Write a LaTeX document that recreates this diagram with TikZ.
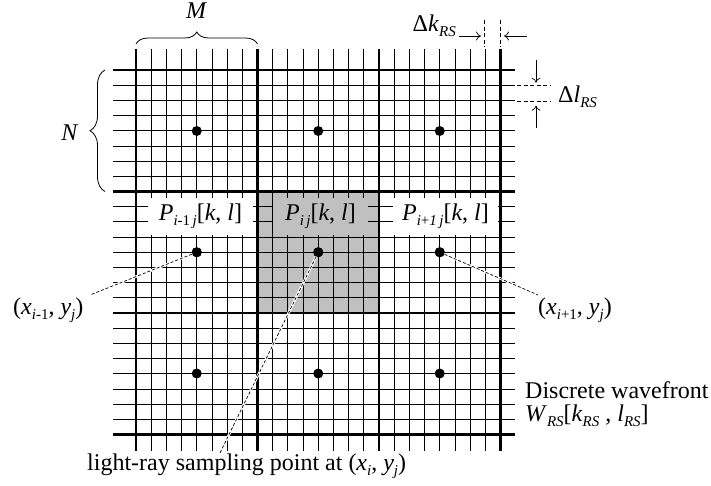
\documentclass[tikz,border=0pt]{standalone}
\usepackage{fontspec}
\setmainfont{Liberation Serif}
\usetikzlibrary{decorations.pathreplacing,arrows.meta}
\definecolor{cellgray}{RGB}{192,192,192}
\newcommand{\lowix}[1]{\raisebox{-5pt}{\fontsize{15}{15}\selectfont #1}}
\begin{document}
\begin{tikzpicture}[x=1pt,y=-1pt,
  thingrid/.style={line width=0.8pt},
  thickgrid/.style={line width=2.6pt},
  txt/.style={font=\fontsize{24}{28}\selectfont, inner sep=0pt},
  lbl/.style={txt, minimum height=37pt, minimum width=105pt},
  dotnode/.style={circle, fill=black, minimum size=10pt, inner sep=0pt},
  halo/.style={draw=white, line width=2.5pt},
  lead/.style={line width=0.7pt, dash pattern=on 3pt off 2pt},
  dimdash/.style={line width=0.7pt, dash pattern=on 4pt off 2.5pt},
  dimarrow/.style={line width=0.7pt, -{To[length=5pt,width=9pt]}},
  bracestyle/.style={line width=0.8pt, decorate}
]
\useasboundingbox (0,0) rectangle (711,486);
% shaded cell
\fill[cellgray] (257.5,191.5) rectangle (379,313);
% grid
\foreach \k in {0,...,24} {
  \draw[thingrid] ({136+\k*15.1875},49) -- ({136+\k*15.1875},451);
  \draw[thingrid] (113,{70+\k*15.1875}) -- (515,{70+\k*15.1875});
}
\foreach \k in {0,...,3} {
  \draw[thickgrid] ({136+\k*121.5},49) -- ({136+\k*121.5},451);
  \draw[thickgrid] (113,{70+\k*121.5}) -- (515,{70+\k*121.5});
}
% cell labels
\node[lbl, fill=white] (pl) at (200.5,216.5) {\textit{P}\lowix{\textit{i}-1\,\textit{j}}[\textit{k}, \textit{l}]};
\node[lbl, fill=cellgray, minimum width=95pt] (pc) at (320.5,216.5) {\textit{P}\lowix{\textit{i\,j}}[\textit{k}, \textit{l}]};
\node[lbl, fill=white] (pr) at (445.5,216.5) {\textit{P}\lowix{\textit{i}+\textit{1\,j}}[\textit{k}, \textit{l}]};
% dots
\foreach \r/\y in {1/131,2/252.25,3/373.5} {
  \foreach \c/\x in {1/196.75,2/318.25,3/439.75} {
    \node[dotnode] (d\r\c) at (\x,\y) {};
  }
}
% leader lines
\coordinate (eL) at (90,295);
\coordinate (eR) at (538,295);
\coordinate (eC) at (220,453);
\draw[halo] (d21.center) -- (eL);
\draw[halo] (d23.center) -- (eR);
\draw[halo] (d22.center) -- (eC);
\draw[lead] (d21) -- (eL);
\draw[lead] (d23) -- (eR);
\draw[lead] (d22) -- (eC);
\node[dotnode] at (d21) {};
\node[dotnode] at (d22) {};
\node[dotnode] at (d23) {};
% point labels
\node[txt, anchor=base west] (xl) at (13,314) {(\textit{x}\lowix{\textit{i}-1}, \textit{y}\lowix{\textit{j}})};
\node[txt, anchor=base west] (xr) at (538,314) {(\textit{x}\lowix{\textit{i}+1}, \textit{y}\lowix{\textit{j}})};
\node[txt, anchor=base west] (lr) at (87,470) {light-ray sampling point at (\textit{x}\lowix{\textit{i}}, \textit{y}\lowix{\textit{j}})};
\node[txt, anchor=base west] (dw) at (525,398) {Discrete wavefront};
\node[txt, anchor=base west] (wr) at (525,421.7) {\textit{W}\lowix{\textit{RS}}[\textit{k}\lowix{\textit{RS}} , \textit{l}\lowix{\textit{RS}}]};
% M brace
\coordinate (mA) at (136,44);
\coordinate (mB) at (257.5,44);
\draw[bracestyle, decoration={brace, amplitude=12pt}] (mA) -- (mB);
\node[txt, anchor=base] (M) at (196.75,19) {\textit{M}};
% N brace
\coordinate (nA) at (105,191.5);
\coordinate (nB) at (105,70);
\draw[bracestyle, decoration={brace, amplitude=15pt}] (nA) -- (nB);
\node[txt, anchor=base] (N) at (70,141) {\textit{N}};
% Delta k
\coordinate (k1t) at (484.3,20.5);
\coordinate (k1b) at (484.3,47);
\coordinate (k2t) at (500.5,20.5);
\coordinate (k2b) at (500.5,47);
\draw[dimdash] (k1t) -- (k1b);
\draw[dimdash] (k2t) -- (k2b);
\coordinate (ka1) at (459,36);
\coordinate (ka2) at (481,36);
\coordinate (kb1) at (527,36);
\coordinate (kb2) at (504,36);
\draw[dimarrow] (ka1) -- (ka2);
\draw[dimarrow] (kb1) -- (kb2);
\node[txt, anchor=base east] (dk) at (456,32) {Δ\textit{k}\lowix{\textit{RS}}};
% Delta l
\coordinate (l1a) at (517,85.7);
\coordinate (l1b) at (550,85.7);
\coordinate (l2a) at (517,101.7);
\coordinate (l2b) at (550,101.7);
\draw[dimdash] (l1a) -- (l1b);
\draw[dimdash] (l2a) -- (l2b);
\coordinate (la1) at (536,60);
\coordinate (la2) at (536,82.7);
\coordinate (lb1) at (536,128);
\coordinate (lb2) at (536,105.7);
\draw[dimarrow] (la1) -- (la2);
\draw[dimarrow] (lb1) -- (lb2);
\node[txt, anchor=base west] (dl) at (558,103) {Δ\textit{l}\lowix{\textit{RS}}};
\end{tikzpicture}
\end{document}
